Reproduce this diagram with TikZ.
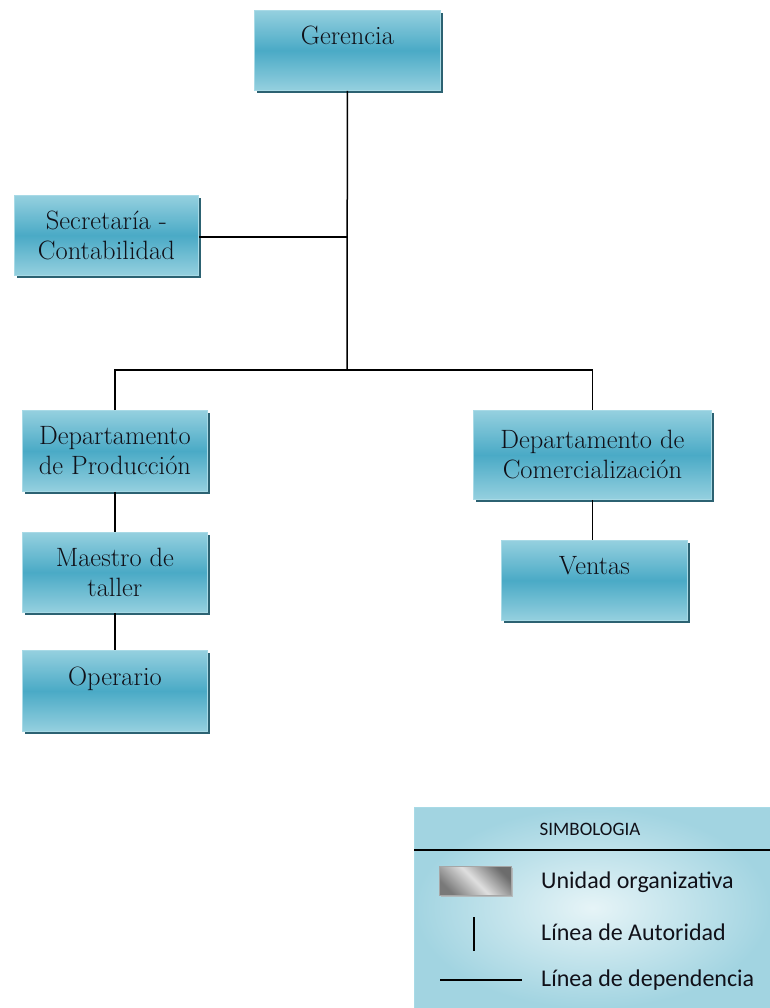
\documentclass[tikz,border=0pt]{standalone}
\usepackage{fontspec}
\newfontfamily\legfont{Carlito}
\usetikzlibrary{shadows}
\definecolor{boxmid}{HTML}{4AAAC6}
\definecolor{boxedge}{HTML}{95D0DF}
\definecolor{boxline}{HTML}{A8DAE6}
\definecolor{boxshadow}{HTML}{2C6272}
\definecolor{legin}{HTML}{E6F4F7}
\definecolor{legout}{HTML}{A2D4E1}
\definecolor{txt}{HTML}{101018}
\tikzset{
  unit/.style={draw=boxline, line width=0.8pt, anchor=north west,
    top color=boxedge, bottom color=boxedge, middle color=boxmid,
    drop shadow={shadow xshift=2.5pt, shadow yshift=-3pt, fill=boxshadow, opacity=1},
    inner sep=0pt, align=center, text=txt,
    font=\fontsize{26.5}{30}\selectfont},
  link/.style={line width=1.5pt, black},
  legtext/.style={anchor=west, inner sep=0pt, text=txt,
    font=\legfont\fontsize{24}{27}\selectfont},
}
\begin{document}
\begin{tikzpicture}[x=1pt, y=-1pt]
\useasboundingbox (0,0) rectangle (770,1008);

% organisation units
\node[unit, minimum width=186pt, minimum height=80pt] (ger) at (254,10) {Gerencia\\\mbox{}};
\node[unit, minimum width=184pt, minimum height=80pt] (sec) at (14,195) {Secretaría -\\Contabilidad};
\node[unit, minimum width=185pt, minimum height=81pt] (prod) at (22,410) {Departamento\\de Producción};
\node[unit, minimum width=185pt, minimum height=80pt] (mae) at (22,532) {Maestro de\\taller};
\node[unit, minimum width=185pt, minimum height=81pt] (ope) at (22,650) {Operario\\\mbox{}};
\node[unit, minimum width=238pt, minimum height=89pt] (com) at (473,410) {Departamento de\\Comercialización};
\node[unit, minimum width=186pt, minimum height=80pt] (ven) at (501,540) {Ventas\\\mbox{}};

% connectors
\coordinate (split) at (347,370);
\coordinate (secjoin) at (347,237);
\draw[link] (ger.south) -- (split);
\draw[link] (sec.east |- secjoin) -- (secjoin);
\draw[link] (prod.north) |- (split) -| (com.north);
\draw[link] (prod.south) -- (mae.north);
\draw[link] (mae.south) -- (ope.north);
\draw[link] (com.south) -- (com.south |- ven.north);

% legend
\node[draw=boxline, line width=0.8pt, inner color=legin, outer color=legout,
      anchor=north west, minimum width=356pt, minimum height=201pt, inner sep=0pt] (leg) at (414,807) {};
\coordinate (hdl) at (414,850);
\coordinate (hdr) at (770,850);
\draw[line width=1.5pt, black] (hdl) -- (hdr);
\node[inner sep=0pt, text=txt, font=\legfont\fontsize{19}{22}\selectfont] (legtitle) at (590,829) {SIMBOLOGIA};
\node[draw=gray!70, line width=0.8pt, anchor=north west, minimum width=72pt, minimum height=29pt,
      inner sep=0pt, left color=gray!95!black, right color=gray!85!black, middle color=gray!25,
      shading angle=135,
      drop shadow={shadow xshift=1.5pt, shadow yshift=-2pt, fill=gray!60, opacity=0.8}] (legbox) at (439,866) {};
\node[legtext] (t1) at (541,882) {Unidad organizativa};
\coordinate (va) at (474,917);
\coordinate (vb) at (474,951);
\draw[line width=2pt, black] (va) -- (vb);
\node[legtext] (t2) at (541,932) {Línea de Autoridad};
\coordinate (ha) at (440,980);
\coordinate (hb) at (522,980);
\draw[line width=1.8pt, black] (ha) -- (hb);
\node[legtext] (t3) at (541,980) {Línea de dependencia};
\end{tikzpicture}
\end{document}
